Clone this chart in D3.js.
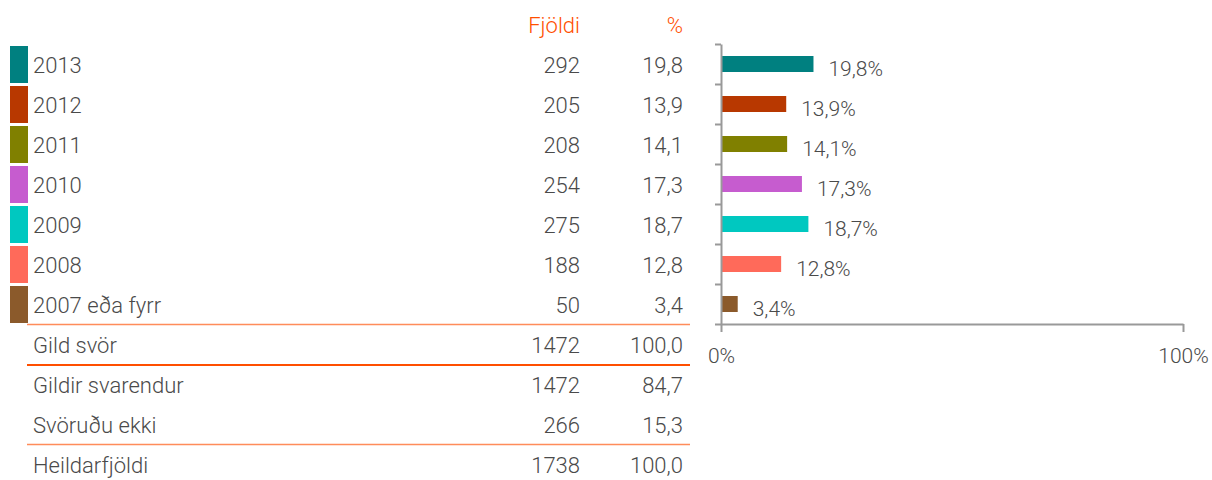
<!DOCTYPE html>
<html>
<head>
<meta charset="utf-8">
<script src="https://cdn.jsdelivr.net/npm/d3@7"></script>
<style>
  body { margin: 0; background: #fff; }
  text { font-family: Roboto, "Open Sans", sans-serif; font-weight: 300; }
</style>
</head>
<body>
<script>
// gögn
var categories = ["2013", "2012", "2011", "2010", "2009", "2008", "2007 eða fyrr"];
var counts = [292, 205, 208, 254, 275, 188, 50];
var percents = [19.8, 13.9, 14.1, 17.3, 18.7, 12.8, 3.4];
var colors = ["#008080", "#b83800", "#808000", "#c65ccf", "#00c8c0", "#ff6a5a", "#8b5a2b"];

var summaryLabels = ["Gild svör", "Gildir svarendur", "Svöruðu ekki", "Heildarfjöldi"];
var summaryCounts = [1472, 1472, 266, 1738];
var summaryPercents = [100.0, 84.7, 15.3, 100.0];

var headers = ["Fjöldi", "%"];
var xTicks = [0, 100];

var width = 1212, height = 480;
var textColor = "#4a4a4a";
var fmt = function (v) { return v.toFixed(1).replace(".", ","); };

var svg = d3.select("body").append("svg")
    .attr("width", width)
    .attr("height", height);

// raðir töflunnar
var allLabels = categories.concat(summaryLabels);
var allCounts = counts.concat(summaryCounts);
var allPercents = percents.concat(summaryPercents);
var rowY = d3.scaleLinear().domain([0, 1]).range([65, 105]);

// haus
svg.selectAll("text.head")
    .data(headers)
    .enter().append("text")
    .attr("class", "head")
    .attr("x", function (d, i) { return i == 0 ? 580 : 683; })
    .attr("y", 33)
    .attr("text-anchor", "end")
    .style("font-size", "22px")
    .style("fill", "#ff4f00")
    .text(function (d) { return d; });

// litareitir
svg.selectAll("rect.swatch")
    .data(categories)
    .enter().append("rect")
    .attr("class", "swatch")
    .attr("x", 10)
    .attr("y", function (d, i) { return rowY(i) - 19; })
    .attr("width", 18)
    .attr("height", 37)
    .style("fill", function (d, i) { return colors[i]; });

var rows = svg.selectAll("g.row")
    .data(allLabels)
    .enter().append("g")
    .attr("class", "row")
    .attr("transform", function (d, i) { return "translate(0," + rowY(i) + ")"; });

rows.append("text")
    .attr("x", 33)
    .attr("dy", "0.36em")
    .style("font-size", "22px")
    .style("fill", textColor)
    .text(function (d) { return d; });

rows.append("text")
    .attr("x", 580)
    .attr("dy", "0.36em")
    .attr("text-anchor", "end")
    .style("font-size", "22px")
    .style("fill", textColor)
    .text(function (d, i) { return allCounts[i]; });

rows.append("text")
    .attr("x", 683)
    .attr("dy", "0.36em")
    .attr("text-anchor", "end")
    .style("font-size", "22px")
    .style("fill", textColor)
    .text(function (d, i) { return fmt(allPercents[i]); });

// línur
var lines = [
    { y: 324.5, c: "#ff8c5a", w: 1.5 },
    { y: 365, c: "#ff4f00", w: 2 },
    { y: 444.5, c: "#ff8c5a", w: 1.5 }
];
svg.selectAll("line.sep")
    .data(lines)
    .enter().append("line")
    .attr("class", "sep")
    .attr("x1", 27).attr("x2", 690)
    .attr("y1", function (d) { return d.y; })
    .attr("y2", function (d) { return d.y; })
    .style("stroke", function (d) { return d.c; })
    .style("stroke-width", function (d) { return d.w; });

// súlurit
var x = d3.scaleLinear().domain([0, 100]).range([721, 1183]);
var y = d3.scaleBand().domain(categories).range([44, 324])
    .paddingInner(0.6).paddingOuter(0.3);
var yEdges = d3.scaleLinear().domain([0, categories.length]).range([44, 324]);

svg.selectAll("rect.bar")
    .data(categories)
    .enter().append("rect")
    .attr("class", "bar")
    .attr("x", x(0) + 1)
    .attr("y", function (d) { return y(d); })
    .attr("width", function (d, i) { return x(percents[i]) - x(0); })
    .attr("height", y.bandwidth())
    .style("fill", function (d, i) { return colors[i]; });

svg.selectAll("text.val")
    .data(categories)
    .enter().append("text")
    .attr("class", "val")
    .attr("x", function (d, i) { return x(percents[i]) + 16; })
    .attr("y", function (d) { return y(d) + y.bandwidth() / 2 + 4; })
    .attr("dy", "0.36em")
    .style("font-size", "21px")
    .style("fill", textColor)
    .text(function (d, i) { return fmt(percents[i]) + "%"; });

var yAxis = svg.append("g")
    .attr("transform", "translate(" + x(0) + ",0)")
    .call(d3.axisLeft(yEdges).tickValues(d3.range(categories.length + 1))
        .tickSize(6).tickSizeOuter(0).tickFormat(""));

var xAxis = svg.append("g")
    .attr("transform", "translate(0," + yEdges(categories.length) + ")")
    .call(d3.axisBottom(x).tickValues(xTicks).tickSize(8).tickSizeOuter(0).tickPadding(16)
        .tickFormat(function (d) { return d + "%"; }));

xAxis.selectAll("text")
    .style("font-size", "21px")
    .style("fill", textColor)
    .style("font-family", "Roboto, sans-serif")
    .style("font-weight", 300);

svg.selectAll(".domain, .tick line")
    .style("stroke", "#999")
    .style("stroke-width", 2);
</script>
</body>
</html>
